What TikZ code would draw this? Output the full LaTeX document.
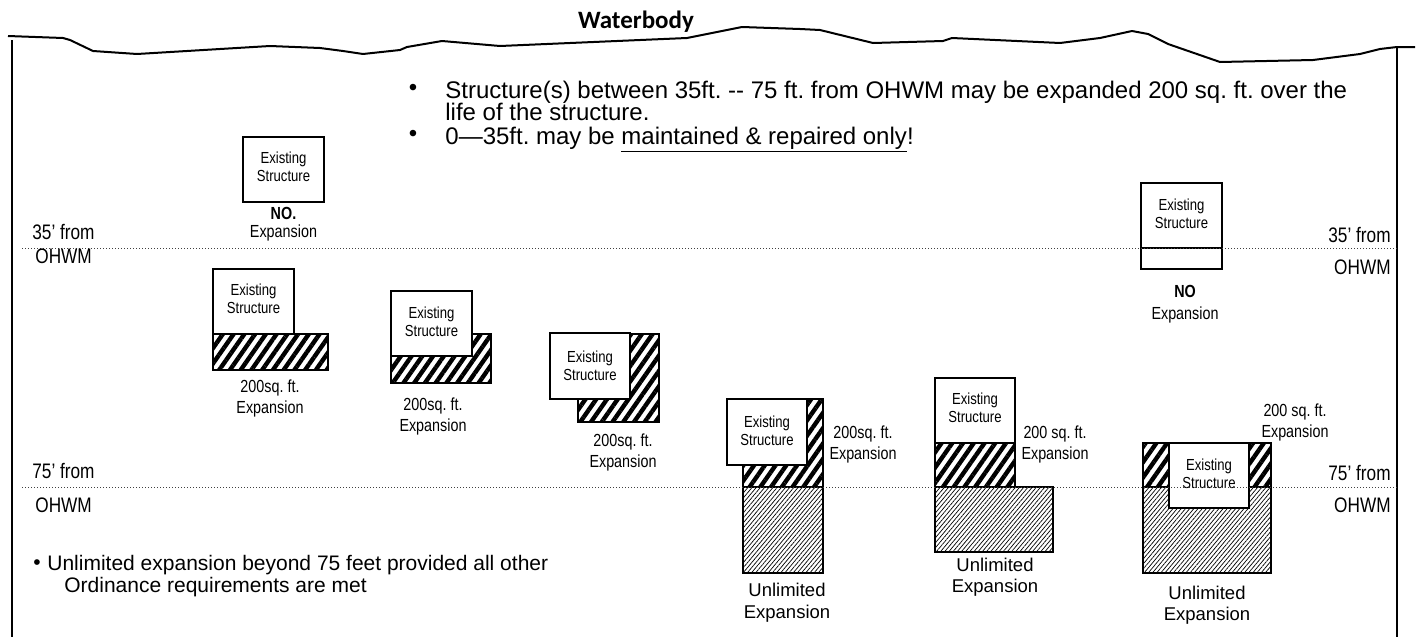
\documentclass[tikz,border=0pt]{standalone}
\usepackage{fontspec}
\setmainfont{Liberation Sans}
\newfontfamily\narrow[FakeStretch=0.82]{Liberation Sans}
\newfontfamily\calib{Carlito}
\usetikzlibrary{patterns.meta}
\frenchspacing
\begin{document}
\begin{tikzpicture}[x=0.5pt,y=-0.5pt,
  bord/.style={line width=1pt},
  boldhatch/.style={draw,line width=1pt,pattern={Lines[angle=55,distance=4.4pt,line width=2.2pt]}},
  finehatch/.style={draw,line width=1pt,pattern={Lines[angle=50,distance=1.6pt,line width=0.35pt]}},
  exist/.style={draw,line width=1pt,fill=white},
  extxt/.style={font=\narrow\fontsize{8}{9}\selectfont,align=center,inner sep=0pt},
  labtxt/.style={font=\narrow\fontsize{8.75}{10.5}\selectfont,align=center,inner sep=0pt},
  unltxt/.style={font=\fontsize{9.25}{10.75}\selectfont,align=center,inner sep=0pt},
  sidetxt/.style={font=\narrow\fontsize{10.5}{12}\selectfont,inner sep=0pt},
  bigtxt/.style={font=\fontsize{12}{14}\selectfont,inner sep=0pt},
  bottxt/.style={font=\fontsize{10.5}{12}\selectfont,inner sep=0pt},
  ohwm/.style={densely dotted,line width=0.5pt,black!75}]
\useasboundingbox (0,0) rectangle (1416,637);
% shoreline and borders
\draw[bord,line join=round] plot coordinates {(8,36) (63,38) (70,40) (93,51) (137,54) (270,46) (320,48) (343,51) (363,54) (400,50) (407,47) (442,41) (500,46) (687,38) (742,27) (800,29) (820,30) (873,43) (943,41) (952,38) (1060,43) (1100,38) (1132,31) (1148,34) (1168,44) (1220,62) (1313,60) (1360,54) (1380,49) (1397,47) (1415,47)};
\coordinate (lt) at (12,40); \coordinate (lb) at (12,637);
\coordinate (rt) at (1397,47); \coordinate (rb) at (1397,637);
\draw[bord] (lt) -- (lb);
\draw[bord] (rt) -- (rb);
\node (wb) [font=\calib\bfseries\fontsize{12.5}{14}\selectfont,inner sep=0pt] at (636,22) {Waterbody};
% top bullets
\node (b1) [bigtxt] at (413,90) {•};
\node (t1) [bigtxt,anchor=base west] at (445,98) {Structure(s) between 35ft. {-}{-} 75 ft. from OHWM may be expanded 200 sq. ft. over the};
\node (t1b) [bigtxt,anchor=base west] at (445,120) {life of the structure.};
\node (b2) [bigtxt] at (413,136) {•};
\node (t2) [bigtxt,anchor=base west] at (445,144) {0—35ft. may be \underline{maintained \& repaired only}!};
% box 1 (no expansion, left)
\draw[exist] (243,137) rectangle (324,202);
\node (e1) [extxt] at (283.5,167) {Existing\\Structure};
\begin{scope}
\clip (200,200) rectangle (380,240);
\node (n1) [font=\narrow\fontsize{8.75}{9}\selectfont,align=center,inner sep=0pt] at (283.5,224) {\textbf{NO.}\\Expansion};
\end{scope}
% box 1b
\draw[boldhatch] (213,334) rectangle (328,370);
\draw[exist] (213,269) rectangle (294,334);
\node (e1b) [extxt] at (253.5,299) {Existing\\Structure};
\node (l1b) [labtxt] at (270,398) {200sq. ft.\\Expansion};
% box 2
\draw[boldhatch] (391,334) rectangle (491,383);
\draw[exist] (391,291) rectangle (472,356);
\node (e2) [extxt] at (431.5,321.5) {Existing\\Structure};
\node (l2) [labtxt] at (433,416) {200sq. ft.\\Expansion};
% box 3
\draw[boldhatch] (578,334) rectangle (659,422);
\draw[exist] (550,333) rectangle (630,399);
\node (e3) [extxt] at (590,365.5) {Existing\\Structure};
\node (l3) [labtxt] at (623,452.5) {200sq. ft.\\Expansion};
% box 4
\draw[boldhatch] (743,399) rectangle (823,487);
\draw[finehatch] (743,487) rectangle (823,573);
\draw[exist] (727,399) rectangle (807,465);
\node (e4) [extxt] at (767,430.5) {Existing\\Structure};
\node (l4) [labtxt] at (863,444) {200sq. ft.\\Expansion};
\node (u4) [unltxt] at (787,602.5) {Unlimited\\Expansion};
% box 5
\draw[boldhatch] (935,443) rectangle (1015,487);
\draw[finehatch] (935,487) rectangle (1053,552);
\draw[exist] (935,378) rectangle (1015,443);
\node (e5) [extxt] at (975,407.5) {Existing\\Structure};
\node (l5) [labtxt] at (1055,444) {200 sq. ft.\\Expansion};
\node (u5) [unltxt] at (995,577) {Unlimited\\Expansion};
% box 6
\draw[boldhatch] (1143,443) rectangle (1271,487);
\draw[finehatch] (1143,487) rectangle (1271,573);
\draw[exist] (1169,443) rectangle (1249,508);
\node (e6) [extxt] at (1209,474) {Existing\\Structure};
\node (l6) [labtxt] at (1295,422.5) {200 sq. ft.\\Expansion};
\node (u6) [unltxt] at (1207,605) {Unlimited\\Expansion};
% box NO right
\draw[exist] (1141,248) rectangle (1222,269);
\draw[exist] (1141,183) rectangle (1222,248);
\node (e7) [extxt] at (1181.5,214) {Existing\\Structure};
\node (n7) [font=\narrow\fontsize{8.75}{11}\selectfont,align=center,inner sep=0pt] at (1185,304) {\textbf{NO}\\Expansion};
% OHWM lines
\coordinate (d35l) at (22,248); \coordinate (d35r) at (1397,248);
\coordinate (d75l) at (22,487); \coordinate (d75r) at (1397,487);
\draw[ohwm] (d35l) -- (d35r);
\draw[ohwm] (d75l) -- (d75r);
\node (s1) [sidetxt,anchor=west] at (32,232) {35’ from};
\node (s2) [sidetxt,anchor=west] at (35,256) {OHWM};
\node (s3) [sidetxt,anchor=east] at (1391,235) {35’ from};
\node (s4) [sidetxt,anchor=east] at (1391,267) {OHWM};
\node (s5) [sidetxt,anchor=west] at (32,471) {75’ from};
\node (s6) [sidetxt,anchor=west] at (35,505) {OHWM};
\node (s7) [sidetxt,anchor=east] at (1391,473) {75’ from};
\node (s8) [sidetxt,anchor=east] at (1391,505) {OHWM};
% bottom note
\node (bb) [bottxt] at (37,565) {•};
\node (bt1) [bottxt,anchor=base west] at (47,570) {Unlimited expansion beyond 75 feet provided all other};
\node (bt2) [bottxt,anchor=base west] at (64,592) {Ordinance requirements are met};
\end{tikzpicture}
\end{document}
